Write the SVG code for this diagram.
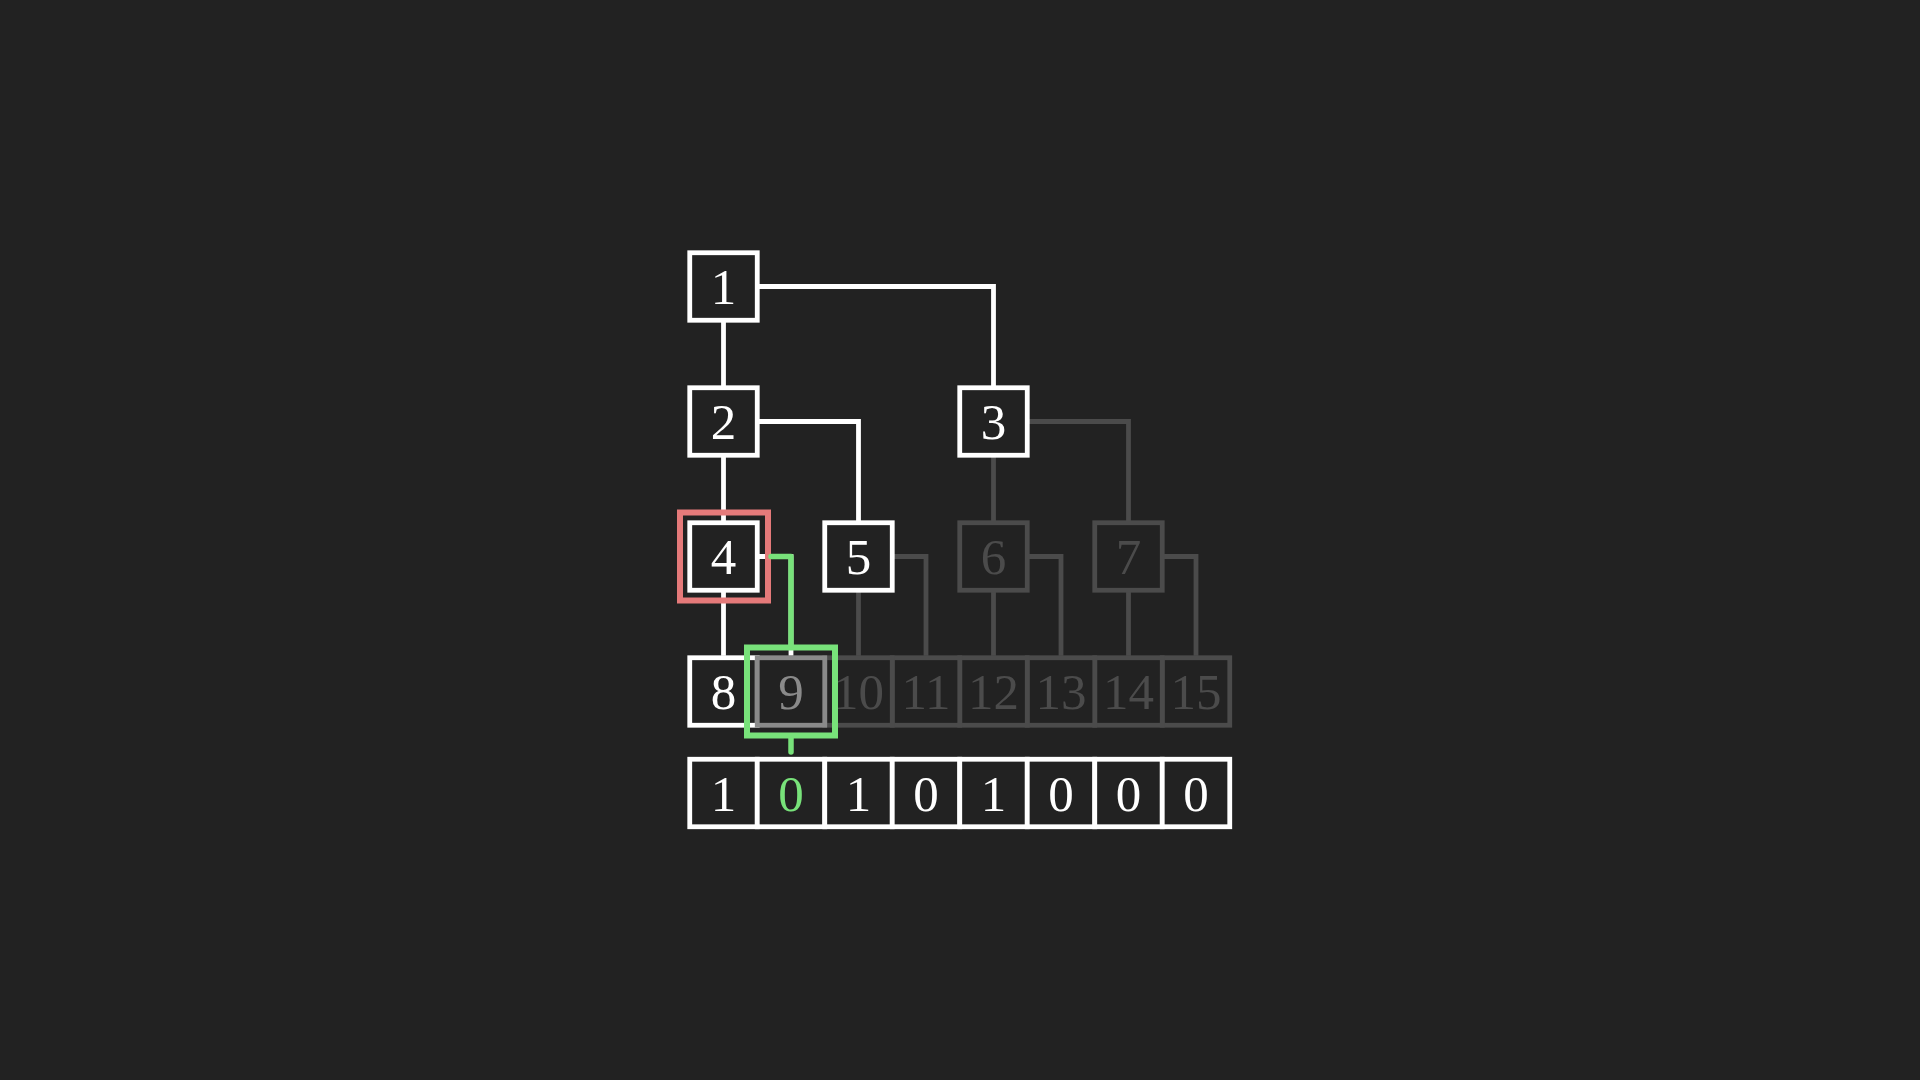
<svg xmlns="http://www.w3.org/2000/svg" width="1920" height="1080" viewBox="0 0 1920 1080">
<style>
.bg{fill:#222222}
.n rect{fill:#222222;stroke-width:4.8}
.n text{font-family:"Liberation Serif","DejaVu Serif",serif;font-size:51px;text-anchor:middle}
.w rect{stroke:#ffffff}.w text{fill:#ffffff}
.d rect{stroke:#4b4b4b}.d text{fill:#4b4b4b}
.m rect{stroke:#8a8a8a}.m text{fill:#8a8a8a}
.cw{fill:none;stroke:#ffffff;stroke-width:4.8}
.cd{fill:none;stroke:#4b4b4b;stroke-width:4.8}
.cg{fill:none;stroke:#78e27a;stroke-width:5.5;stroke-linecap:round;stroke-linejoin:round}
.hl{fill:none;stroke-width:6}
</style>
<rect class="bg" x="0" y="0" width="1920" height="1080"/>
<g id="connectors">
<polyline class="cd" points="993.5,455 993.5,522.75"/>
<polyline class="cd" points="1027,421.5 1128.5,421.5 1128.5,522.75"/>
<polyline class="cd" points="858.5,590 858.5,655.75"/>
<polyline class="cd" points="892,556.5 926,556.5 926,655.75"/>
<polyline class="cd" points="993.5,590 993.5,655.75"/>
<polyline class="cd" points="1027,556.5 1061,556.5 1061,655.75"/>
<polyline class="cd" points="1128.5,590 1128.5,655.75"/>
<polyline class="cd" points="1162,556.5 1196,556.5 1196,655.75"/>
<polyline class="cw" points="723.5,320 723.5,387.75"/>
<polyline class="cw" points="757,286.5 993.5,286.5 993.5,387.75"/>
<polyline class="cw" points="723.5,455 723.5,522.75"/>
<polyline class="cw" points="757,421.5 858.5,421.5 858.5,522.75"/>
<polyline class="cw" points="723.5,590 723.5,655.75"/>
<polyline class="cw" points="757,556.5 791,556.5 791,655.75"/>
</g>
<g id="node-1" class="n w"><rect x="689.75" y="252.75" width="67.5" height="67.5"/><text x="723.5" y="304">1</text></g>
<g id="node-2" class="n w"><rect x="689.75" y="387.75" width="67.5" height="67.5"/><text x="723.5" y="439">2</text></g>
<g id="node-3" class="n w"><rect x="959.75" y="387.75" width="67.5" height="67.5"/><text x="993.5" y="439">3</text></g>
<g id="node-4" class="n w"><rect x="689.75" y="522.75" width="67.5" height="67.5"/><text x="723.5" y="574">4</text></g>
<g id="node-5" class="n w"><rect x="824.75" y="522.75" width="67.5" height="67.5"/><text x="858.5" y="574">5</text></g>
<g id="node-6" class="n d"><rect x="959.75" y="522.75" width="67.5" height="67.5"/><text x="993.5" y="574">6</text></g>
<g id="node-7" class="n d"><rect x="1094.75" y="522.75" width="67.5" height="67.5"/><text x="1128.5" y="574">7</text></g>
<g id="node-15" class="n d"><rect x="1162.25" y="657.75" width="67.5" height="67.5"/><text x="1196" y="709">15</text></g>
<g id="node-14" class="n d"><rect x="1094.75" y="657.75" width="67.5" height="67.5"/><text x="1128.5" y="709">14</text></g>
<g id="node-13" class="n d"><rect x="1027.25" y="657.75" width="67.5" height="67.5"/><text x="1061" y="709">13</text></g>
<g id="node-12" class="n d"><rect x="959.75" y="657.75" width="67.5" height="67.5"/><text x="993.5" y="709">12</text></g>
<g id="node-11" class="n d"><rect x="892.25" y="657.75" width="67.5" height="67.5"/><text x="926" y="709">11</text></g>
<g id="node-10" class="n d"><rect x="824.75" y="657.75" width="67.5" height="67.5"/><text x="858.5" y="709">10</text></g>
<g id="node-8" class="n w"><rect x="689.75" y="657.75" width="67.5" height="67.5"/><text x="723.5" y="709">8</text></g>
<g id="node-9" class="n m"><rect x="757.25" y="657.75" width="67.5" height="67.5"/><text x="791" y="709">9</text></g>
<g id="bits" class="n w">
<rect x="689.75" y="759.25" width="67.5" height="67.5"/><text x="723.5" y="810.5">1</text>
<rect x="757.25" y="759.25" width="67.5" height="67.5"/><text x="791" y="810.5" style="fill:#78e27a">0</text>
<rect x="824.75" y="759.25" width="67.5" height="67.5"/><text x="858.5" y="810.5">1</text>
<rect x="892.25" y="759.25" width="67.5" height="67.5"/><text x="926" y="810.5">0</text>
<rect x="959.75" y="759.25" width="67.5" height="67.5"/><text x="993.5" y="810.5">1</text>
<rect x="1027.25" y="759.25" width="67.5" height="67.5"/><text x="1061" y="810.5">0</text>
<rect x="1094.75" y="759.25" width="67.5" height="67.5"/><text x="1128.5" y="810.5">0</text>
<rect x="1162.25" y="759.25" width="67.5" height="67.5"/><text x="1196" y="810.5">0</text>
</g>
<g id="highlights">
<rect class="hl" x="680" y="512.5" width="88" height="88" stroke="#e57a7a"/>
<rect class="hl" x="747" y="647.5" width="88" height="88" stroke="#78e27a"/>
<polyline class="cg" points="771,556.5 791,556.5 791,644.5"/>
<polyline class="cg" points="791,738.5 791,752"/>
</g>
</svg>
